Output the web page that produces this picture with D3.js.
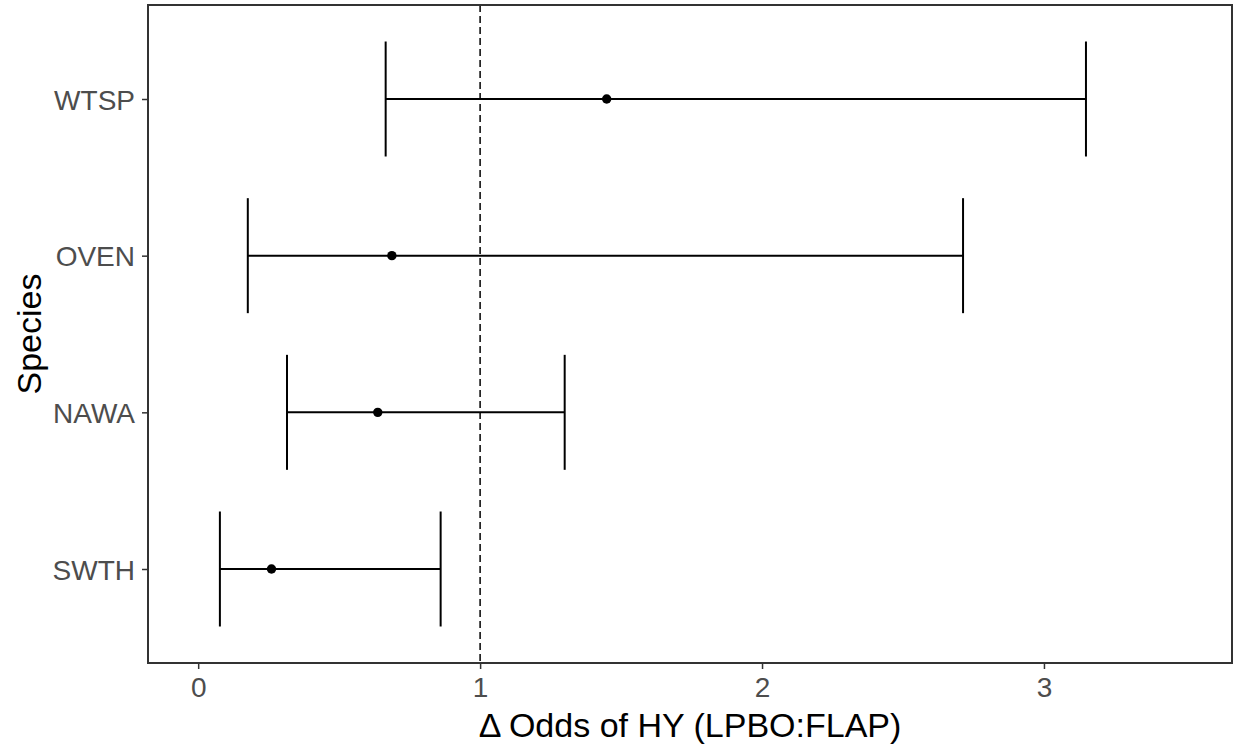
<!DOCTYPE html>
<html>
<head>
    <meta charset="utf-8">
    <style>
        body {
            margin: 0;
            background: white;
        }
        svg {
            display: block;
            font-family: "Liberation Sans", Arial, sans-serif;
        }
        .tick text {
            fill: #4d4d4d;
            font-size: 28px;
        }
        .tick line {
            stroke: #333;
            stroke-width: 1.5;
        }
        .title {
            fill: black;
            font-size: 34px;
        }
    </style>
    <script src="https://d3js.org/d3.v7.min.js"></script>
</head>
<body>
<script>
// species from bottom to top
const species = ["SWTH", "NAWA", "OVEN", "WTSP"];
const estimate = [0.26, 0.637, 0.687, 1.449];
const lower = [0.077, 0.315, 0.176, 0.665];
const upper = [0.860, 1.300, 2.713, 3.149];
const xTicks = [0, 1, 2, 3];
const refLine = 1;

const width = 1235, height = 746;
const panel = {left: 148, right: 1232, top: 5, bottom: 663};

const x = d3.scaleLinear()
    .domain([-0.178, 3.667])
    .range([panel.left, panel.right]);

const y = d3.scalePoint()
    .domain(species)
    .range([panel.bottom, panel.top])
    .padding(0.6);

const barHalf = y.step() * 0.367;

const svg = d3.select("body").append("svg")
    .attr("width", width)
    .attr("height", height);

// x axis
svg.append("g")
    .attr("transform", `translate(0,${panel.bottom})`)
    .call(d3.axisBottom(x).tickValues(xTicks).tickSize(6).tickPadding(8).tickFormat(d3.format("d")))
    .call(g => g.select(".domain").remove());

// y axis
svg.append("g")
    .attr("transform", `translate(${panel.left},0)`)
    .call(d3.axisLeft(y).tickSize(6).tickPadding(7))
    .call(g => g.select(".domain").remove())
    .call(g => g.selectAll(".tick text").attr("dy", "0.36em"));

// reference line
svg.append("line")
    .attr("x1", x(refLine)).attr("x2", x(refLine))
    .attr("y1", panel.top).attr("y2", panel.bottom)
    .attr("stroke", "black")
    .attr("stroke-width", 1.5)
    .attr("stroke-dasharray", "7,4");

const rows = species.map((s, i) => ({s, est: estimate[i], lo: lower[i], hi: upper[i]}));

const bars = svg.append("g")
    .selectAll("g")
    .data(rows)
    .join("g")
    .attr("stroke", "black")
    .attr("stroke-width", 2);

bars.append("line")
    .attr("x1", d => x(d.lo)).attr("x2", d => x(d.hi))
    .attr("y1", d => y(d.s)).attr("y2", d => y(d.s));

bars.append("line")
    .attr("x1", d => x(d.lo)).attr("x2", d => x(d.lo))
    .attr("y1", d => y(d.s) - barHalf).attr("y2", d => y(d.s) + barHalf);

bars.append("line")
    .attr("x1", d => x(d.hi)).attr("x2", d => x(d.hi))
    .attr("y1", d => y(d.s) - barHalf).attr("y2", d => y(d.s) + barHalf);

svg.append("g")
    .selectAll("circle")
    .data(rows)
    .join("circle")
    .attr("cx", d => x(d.est))
    .attr("cy", d => y(d.s))
    .attr("r", 4.7)
    .attr("fill", "black");

// panel border
svg.append("rect")
    .attr("x", panel.left).attr("y", panel.top)
    .attr("width", panel.right - panel.left)
    .attr("height", panel.bottom - panel.top)
    .attr("fill", "none")
    .attr("stroke", "#333")
    .attr("stroke-width", 2);

// axis titles
svg.append("text")
    .attr("class", "title")
    .attr("x", (panel.left + panel.right) / 2)
    .attr("y", 737)
    .attr("text-anchor", "middle")
    .text("Δ Odds of HY (LPBO:FLAP)");

svg.append("text")
    .attr("class", "title")
    .attr("font-size", "33px")
    .attr("transform", `translate(41,${(panel.top + panel.bottom) / 2}) rotate(-90)`)
    .attr("text-anchor", "middle")
    .text("Species");
</script>
</body>
</html>
